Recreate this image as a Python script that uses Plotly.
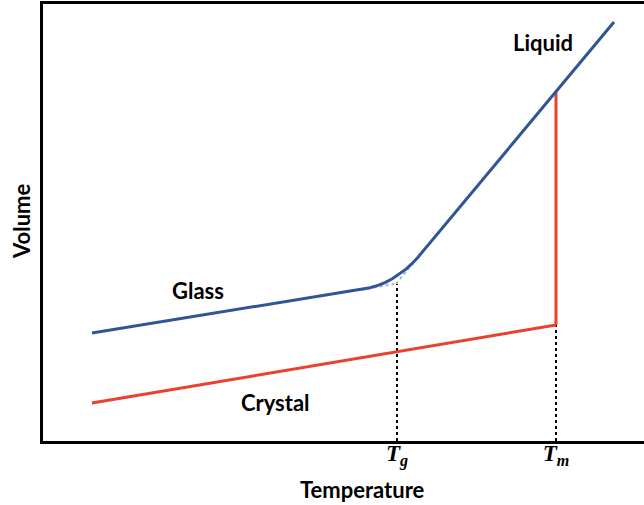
import plotly.graph_objects as go

# arbitrary units (temperature, volume)
glass_liquid_x = [49, 319, 327, 335, 342.5, 349.7, 356.5, 363, 369.2, 375, 571]
glass_liquid_y = [108, 151.3, 153.2, 155.6, 158.7, 162.5, 166.9, 171.9, 177.6, 183.8, 419]

glass_extrap_x = [319, 353]
glass_extrap_y = [151.3, 157.4]
liquid_extrap_x = [353, 375]
liquid_extrap_y = [157.4, 183.8]

crystal_x = [49, 513]
crystal_y = [38, 116]

Tg = 354
Tm = 513
V_liquid_at_Tm = 349
V_crystal_at_Tm = 116
V_at_Tg = 157

tick_vals = [Tg, Tm]
tick_text = ["<b><i>T</i></b><sub><b><i>g</i></b></sub>",
             "<b><i>T</i></b><sub><b><i>m</i></b></sub>"]

blue = "#2F5597"
red = "#E8412C"

fig = go.Figure()

# dotted extrapolations
fig.add_trace(go.Scatter(x=glass_extrap_x, y=glass_extrap_y, mode="lines",
                         line=dict(color="#A8B4CC", width=2, dash="dot")))
fig.add_trace(go.Scatter(x=liquid_extrap_x, y=liquid_extrap_y, mode="lines",
                         line=dict(color="#A8B4CC", width=2, dash="dot")))

# dashed drops to the axis
fig.add_trace(go.Scatter(x=[Tg, Tg], y=[0, V_at_Tg], mode="lines",
                         line=dict(color="black", width=2, dash="dot")))
fig.add_trace(go.Scatter(x=[Tm, Tm], y=[0, V_crystal_at_Tm], mode="lines",
                         line=dict(color="black", width=2, dash="dot")))

# crystal + melting jump
fig.add_trace(go.Scatter(x=crystal_x, y=crystal_y, mode="lines",
                         line=dict(color=red, width=3)))
fig.add_trace(go.Scatter(x=[Tm, Tm], y=[V_crystal_at_Tm, V_liquid_at_Tm], mode="lines",
                         line=dict(color=red, width=3)))

# glass / liquid
fig.add_trace(go.Scatter(x=glass_liquid_x, y=glass_liquid_y, mode="lines",
                         line=dict(color=blue, width=3)))

label_font = dict(family="Lato", size=22, color="black")
fig.add_annotation(x=155, y=151, text="<b>Glass</b>", showarrow=False, font=label_font)
fig.add_annotation(x=232, y=39, text="<b>Crystal</b>", showarrow=False, font=label_font)
fig.add_annotation(x=500, y=399, text="<b>Liquid</b>", showarrow=False, font=label_font)

# axis titles, placed in paper coords
fig.add_annotation(x=(362 - 43) / 601, y=-(489 - 441) / 437, xref="paper", yref="paper",
                   xanchor="center", yanchor="middle",
                   text="<b>Temperature</b>", showarrow=False, font=label_font)
fig.add_annotation(x=-(43 - 22) / 601, y=(441 - 222) / 437, xref="paper", yref="paper",
                   xanchor="center", yanchor="middle",
                   text="<b>Volume</b>", textangle=-90, showarrow=False, font=label_font)

fig.update_layout(
    width=644,
    height=505,
    paper_bgcolor="white",
    plot_bgcolor="white",
    showlegend=False,
    margin=dict(l=43, r=0, t=4, b=64),
    xaxis=dict(range=[0, 601], showgrid=False, zeroline=False,
               showline=True, mirror=True, linecolor="black", linewidth=2.5,
               tickvals=tick_vals, ticktext=tick_text, ticks="",
               ticklabelstandoff=-10,
               tickfont=dict(family="Liberation Serif", size=23, color="black")),
    yaxis=dict(range=[0, 437], showgrid=False, zeroline=False,
               showline=True, linecolor="black", linewidth=2.5,
               showticklabels=False, ticks=""),
)

fig.write_html("out.html", config={"displayModeBar": False},
               post_script="document.body.style.margin='0';")
